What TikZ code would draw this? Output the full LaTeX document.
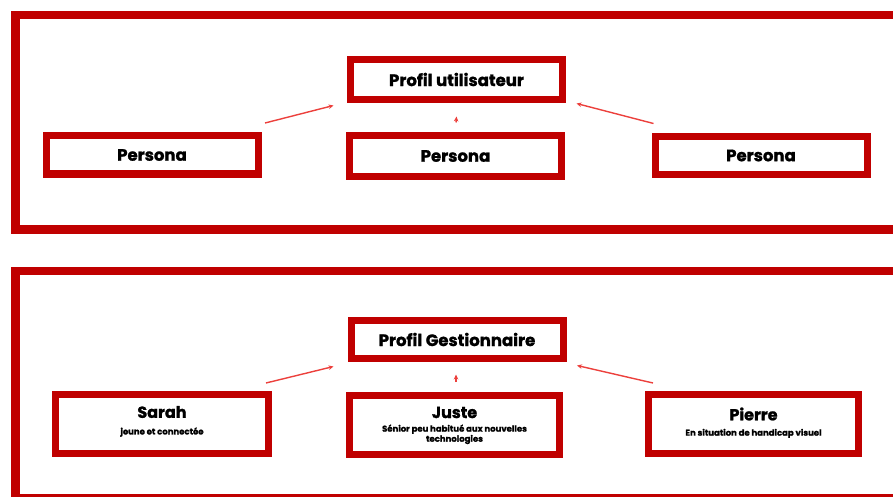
\documentclass[tikz,border=0pt]{standalone}
\usepackage{fontspec}
\setmainfont{Poppins}
\newfontfamily\heavy{Poppins}[BoldFeatures={FakeBold=1.3}]
\usetikzlibrary{arrows.meta}
\definecolor{frameRed}{RGB}{192,0,0}
\definecolor{arrowRed}{RGB}{236,64,60}

\begin{document}
\begin{tikzpicture}[x=1pt,y=-1pt,
  frame/.style={draw=frameRed, line width=8.5pt},
  card/.style={draw=frameRed, line width=7pt, fill=white,
    minimum width=212pt, minimum height=40pt, inner sep=0pt},
  tallcard/.style={card, minimum width=213pt, minimum height=59pt},
  title/.style={font=\fontsize{16.5}{18}\heavy\bfseries, text=black, inner sep=0pt},
  who/.style={font=\fontsize{16}{18}\heavy\bfseries, text=black, inner sep=0pt},
  about/.style={font=\fontsize{8.5}{9}\heavy\bfseries, text=black, inner sep=0pt, align=center},
  link/.style={draw=arrowRed, line width=1.4pt, -{Stealth[length=5pt,width=4.5pt]}}]

\useasboundingbox (0,0) rectangle (893,497);
\clip (0,0) rectangle (893,497);

% outer frames
\draw[frame] (15.5,15) rectangle (897,229.5);
\draw[frame] (15.5,271) rectangle (897,498);

% upper group: user profile and personas
\node[card] (pu) at (456.5,79.5) {};
\node[title] at (pu.center) {Profil utilisateur};
\node[card, minimum height=38pt] (pl) at (152,155) {};
\node[title] at (pl.center) {Persona};
\node[card, minimum height=41pt] (pm) at (455.5,156) {};
\node[title] at (pm.center) {Persona};
\node[card, minimum height=38pt] (pr) at (761,155.5) {};
\node[title] at (pr.center) {Persona};

\draw[link] ([shift={(3.5,-9.5)}]pl.north east) -- ([shift={(-13.5,2.5)}]pu.south west);
\draw[link] ([shift={(0.5,-9.5)}]pm.north) -- ([shift={(0,13.5)}]pu.south);
\draw[link] ([shift={(2,-9.5)}]pr.north west) -- ([shift={(10.5,0.5)}]pu.south east);

% lower group: manager profile and named personas
\node[card, minimum height=38pt] (pg) at (457,339.5) {};
\node[title] at (pg.center) {Profil Gestionnaire};

\node[tallcard] (sarah) at (162,424) {};
\node[who] (sarahN) at ([shift={(0,-12)}]sarah.center) {Sarah};
\node[about, anchor=north] (sarahD) at ([shift={(0,9)}]sarahN.south) {jeune et connectée};

\node[tallcard, minimum width=210pt] (juste) at (454.5,424.5) {};
\node[who] (justeN) at ([shift={(0,-12)}]juste.center) {Juste};
\node[about, anchor=north] (justeD) at ([shift={(0,6)}]justeN.south) {Sénior peu habitué aux nouvelles\\technologies};

\node[tallcard, minimum width=210pt] (pierre) at (753.5,424) {};
\node[who] (pierreN) at ([shift={(0,-10)}]pierre.center) {Pierre};
\node[about, anchor=north] (pierreD) at ([shift={(0,8)}]pierreN.south) {En situation de handicap visuel};

\draw[link] ([shift={(-6,-8)}]sarah.north east) -- ([shift={(-14,4.5)}]pg.south west);
\draw[link] ([shift={(1.5,-9.5)}]juste.north) -- ([shift={(-1,12.5)}]pg.south);
\draw[link] ([shift={(8,-8)}]pierre.north west) -- ([shift={(10.5,3.5)}]pg.south east);
\end{tikzpicture}
\end{document}
